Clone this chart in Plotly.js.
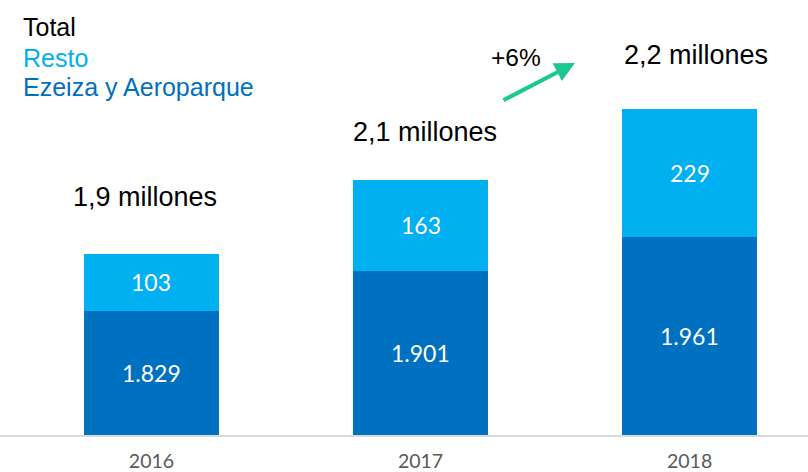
<!DOCTYPE html>
<html>
<head>
<meta charset="utf-8">
<script src="https://cdn.plot.ly/plotly-3.0.1.min.js"></script>
<style>html,body{margin:0;padding:0;background:#fff}#chart{width:808px;height:472px}</style>
</head>
<body>
<div id="chart"></div>
<script>
var years = ['2016', '2017', '2018'];
var ezeizaAeroparque = [1829, 1901, 1961];
var resto = [103, 163, 229];
var totalLabels = ['1,9 millones', '2,1 millones', '2,2 millones'];
var growthLabel = '+6%';
var seriesNames = ['Total', 'Resto', 'Ezeiza y Aeroparque'];

var colEz = '#0070c0', colResto = '#00b0f0';
var yMin = 1608, yMax = 2385;

var traces = [
  {type: 'bar', x: years, y: ezeizaAeroparque, name: seriesNames[2], marker: {color: colEz}, width: 0.5, hoverinfo: 'none', textposition: 'none'},
  {type: 'bar', x: years, y: resto, name: seriesNames[1], marker: {color: colResto}, width: 0.5, hoverinfo: 'none', textposition: 'none'}
];

var fmt = function(v){ return v.toString().replace(/\B(?=(\d{3})+(?!\d))/g, '.'); };
var ann = [];
var numFont = {family: 'Lato, sans-serif', size: 23, color: '#ffffff'};
for (var i = 0; i < years.length; i++) {
  var b0 = Math.max(0, yMin);
  ann.push({x: i, y: (b0 + ezeizaAeroparque[i]) / 2, xref: 'x', yref: 'y', text: fmt(ezeizaAeroparque[i]), showarrow: false, font: numFont});
  ann.push({x: i, y: ezeizaAeroparque[i] + resto[i] / 2, xref: 'x', yref: 'y', text: fmt(resto[i]), showarrow: false, font: numFont});
}
var totPos = [[145, 197], [425, 132], [696, 55]];
var bigFont = {family: 'Liberation Sans, Arial, sans-serif', size: 27, color: '#000000'};
for (var j = 0; j < totalLabels.length; j++) {
  ann.push({x: totPos[j][0] / 808, y: 1 - totPos[j][1] / 435, xref: 'paper', yref: 'paper', text: totalLabels[j], showarrow: false, font: bigFont, xanchor: 'center', yanchor: 'middle'});
}
var legFont = function(c){ return {family: 'Liberation Sans, Arial, sans-serif', size: 25, color: c}; };
var legCols = ['#000000', colResto, colEz];
var legY = [27, 58, 87];
for (var k = 0; k < seriesNames.length; k++) {
  ann.push({x: 21 / 808, y: 1 - legY[k] / 435, xref: 'paper', yref: 'paper', text: seriesNames[k], showarrow: false, font: legFont(legCols[k]), xanchor: 'left', yanchor: 'middle'});
}
ann.push({x: 516 / 808, y: 1 - 58 / 435, xref: 'paper', yref: 'paper', text: growthLabel, showarrow: false, font: {family: 'Liberation Sans, Arial, sans-serif', size: 24.5, color: '#000000'}, xanchor: 'center', yanchor: 'middle'});
ann.push({x: 575 / 808, y: 1 - 63 / 435, xref: 'paper', yref: 'paper', text: '', showarrow: true, ax: -73, ay: 38, arrowhead: 2, arrowsize: 1, arrowwidth: 4, arrowcolor: '#1cc892', standoff: 0, startstandoff: 0});

var layout = {
  width: 808, height: 472,
  margin: {l: 0, r: 0, t: 0, b: 37, pad: 0},
  paper_bgcolor: '#ffffff', plot_bgcolor: '#ffffff',
  barmode: 'stack',
  showlegend: false,
  xaxis: {type: 'category', range: [-0.563, 2.44], showline: true, linecolor: '#d9d9d9', linewidth: 2, ticks: '', showgrid: false, zeroline: false,
          tickfont: {family: 'Lato, sans-serif', size: 19.5, color: '#595959'}, ticklabelstandoff: 8},
  yaxis: {range: [yMin, yMax], visible: false, showgrid: false, zeroline: false},
  annotations: ann
};
Plotly.newPlot('chart', traces, layout, {displayModeBar: false, staticPlot: true});
</script>
</body>
</html>
